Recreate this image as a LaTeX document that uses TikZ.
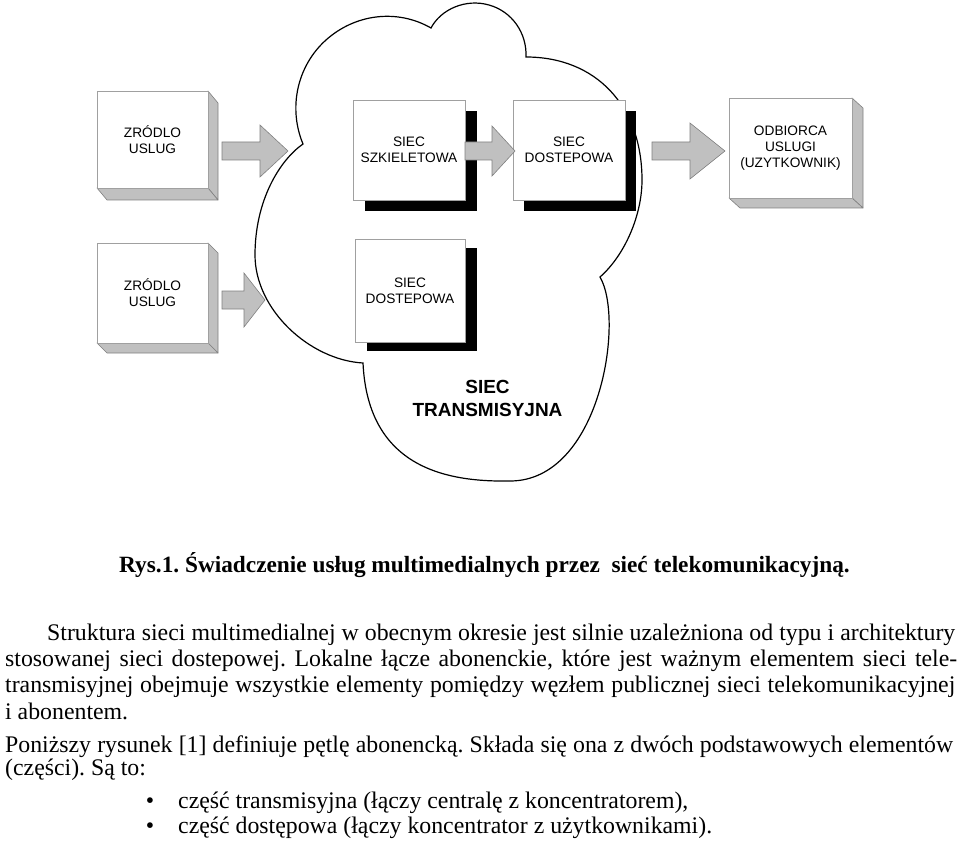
\documentclass[tikz,border=0pt]{standalone}
\usepackage{fontspec}
\setmainfont{Liberation Serif}
\newfontfamily\arialf{Liberation Sans}
\usetikzlibrary{calc}
\pgfdeclarelayer{bg}
\pgfsetlayers{bg,main}
\definecolor{sidegray}{HTML}{C0C0C0}
\definecolor{edgegray}{HTML}{808080}
\definecolor{facegray}{HTML}{A0A0A0}
\newcommand\bodyfont{\fontsize{23.8}{26}\selectfont}
\newcommand\boxfont{\arialf\fontsize{13.7}{16}\selectfont}
\frenchspacing
\begin{document}
\begin{tikzpicture}[x=1pt,y=-1pt,
  frontface/.style={draw=facegray, fill=white, line width=0.8pt, inner sep=0pt, outer sep=0pt, align=center, font=\boxfont},
  sideface/.style={draw=edgegray, fill=sidegray, line width=0.6pt, line join=round},
  shadowface/.style={fill=black},
  blockarrow/.style={draw=edgegray, fill=sidegray, line width=0.6pt, line join=miter},
  cloudline/.style={draw=black, fill=white, line width=1.2pt},
  bodyline/.style={anchor=base west, inner sep=0pt, font=\bodyfont}]
\useasboundingbox (0,0) rectangle (960,842);

% ---- boxes (front faces) ----
\node[frontface, minimum width=111pt, minimum height=97pt] (src1) at (152.5,139.5) {ZRÓDLO\\USLUG};
\node[frontface, minimum width=112pt, minimum height=100pt] (core) at (409,150) {SIEC\\SZKIELETOWA};
\node[frontface, minimum width=112pt, minimum height=100pt] (acc1) at (569,150) {SIEC\\DOSTEPOWA};
\node[frontface, minimum width=123pt, minimum height=100pt] (user) at (790.5,148) {ODBIORCA\\USLUGI\\(UZYTKOWNIK)};
\node[frontface, minimum width=111pt, minimum height=100pt] (src2) at (152.5,293) {ZRÓDLO\\USLUG};
\node[frontface, minimum width=110pt, minimum height=103pt] (acc2) at (410,290.5) {SIEC\\DOSTEPOWA};
\node[font=\arialf\bfseries\fontsize{19}{23}\selectfont, align=center] (trans) at (487.5,398) {SIEC\\TRANSMISYJNA};

\begin{pgfonlayer}{bg}
  % cloud
  \draw[cloudline] (303,144)
    .. controls (288,108) and (297,66) .. (326,40)
    .. controls (355,14) and (397,8.5) .. (431,28)
    .. controls (441,9) and (466,-1.6) .. (489,5)
    .. controls (512,11.4) and (527,33) .. (526,57)
    .. controls (596,57) and (642,106) .. (642,180)
    .. controls (642,215) and (625,255) .. (600,277)
    .. controls (625,320) and (600,481) .. (510,481)
    .. controls (450,482) and (368,470) .. (363,363)
    .. controls (310,360) and (255,310) .. (255,255)
    .. controls (255,200) and (280,160) .. (303,144) -- cycle;
  % 3D sides
  \foreach \b/\dx/\dy in {src1/10/12, user/11/10, src2/10/10}{
    \draw[sideface] (\b.north east) -- ++(\dx,\dy) -- ($(\b.south east)+(\dx,\dy)$) -- (\b.south east) -- cycle;
    \draw[sideface] (\b.south west) -- (\b.south east) -- ($(\b.south east)+(\dx,\dy)$) -- ($(\b.south west)+(\dx,\dy)$) -- cycle;
  }
  % drop shadows
  \foreach \b/\dx/\dy in {core/12/11, acc1/11/11, acc2/12/9}{
    \fill[shadowface] ($(\b.north west)+(\dx,\dy)$) rectangle ($(\b.south east)+(\dx,\dy)$);
  }
\end{pgfonlayer}

% ---- block arrows ----
\newcommand\barrow[6]{%
  \draw[blockarrow] (#1,#4-#5) -- (#2,#4-#5) -- (#2,#4-#6) -- (#3,#4) -- (#2,#4+#6) -- (#2,#4+#5) -- (#1,#4+#5) -- cycle;}
\barrow{222}{260}{288}{151}{9}{26}
\barrow{465}{492}{515}{151}{9}{25}
\barrow{652}{690}{725}{151}{9}{28}
\barrow{222}{244}{265}{300}{9}{27}

% ---- caption and text ----
\node[anchor=base, inner sep=0pt, font=\bfseries\fontsize{23.3}{26}\selectfont] (cap) at (484.5,572) {Rys.1. Świadczenie usług multimedialnych przez\ \ sieć telekomunikacyjną.};
\node[bodyline] (l1) at (47,640) {\makebox[908pt][s]{Struktura sieci multimedialnej w obecnym okresie jest silnie uzależniona od typu i architektury}};
\node[bodyline] (l2) at (5,666) {\makebox[952pt][s]{stosowanej sieci dostepowej. Lokalne łącze abonenckie, które jest ważnym elementem sieci tele-}};
\node[bodyline] (l3) at (5,692.5) {\makebox[950pt][s]{transmisyjnej obejmuje wszystkie elementy pomiędzy węzłem publicznej sieci telekomunikacyjnej}};
\node[bodyline] (l4) at (5,719) {i abonentem.};
\node[bodyline] (l5) at (5,752) {\makebox[948pt][s]{Poniższy rysunek [1] definiuje pętlę abonencką. Składa się ona z dwóch podstawowych elementów}};
\node[bodyline] (l6) at (5,775) {(części). Są to:};
\node[anchor=base, inner sep=0pt, font=\bodyfont] (d1) at (150,808) {•};
\node[bodyline] (i1) at (178,808) {część transmisyjna (łączy centralę z koncentratorem),};
\node[anchor=base, inner sep=0pt, font=\bodyfont] (d2) at (150,833) {•};
\node[bodyline] (i2) at (178,833) {część dostępowa (łączy koncentrator z użytkownikami).};
\end{tikzpicture}
\end{document}
